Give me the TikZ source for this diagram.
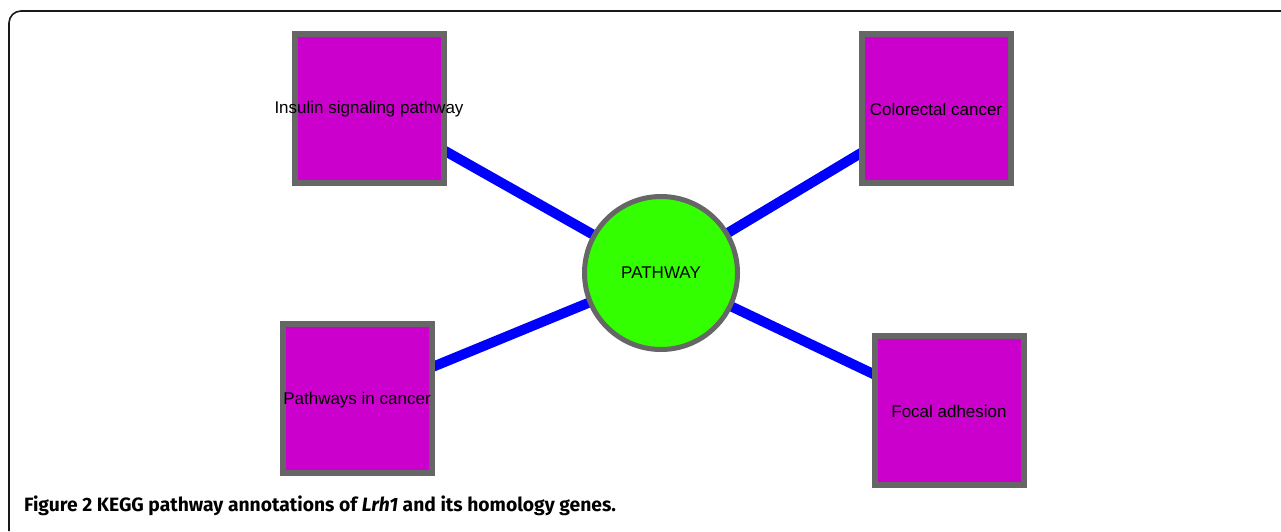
\documentclass[tikz,border=0pt]{standalone}
\usepackage{fontspec}
\setmainfont{Liberation Sans}
\newfontfamily\capfont{Fira Sans}
\definecolor{nodemag}{HTML}{CC00CC}
\definecolor{nodegreen}{HTML}{33FF00}
\definecolor{bordergray}{HTML}{666666}
\definecolor{edgeblue}{HTML}{0000FF}
\begin{document}
\begin{tikzpicture}[x=1pt,y=-1pt,
  lbl/.style={font=\fontsize{17}{19}\selectfont},
  sq/.style={draw=bordergray,fill=nodemag,line width=6pt,minimum size=149pt,inner sep=0pt},
  hub/.style={circle,draw=bordergray,fill=nodegreen,line width=5pt,minimum size=153pt,inner sep=0pt,lbl},
  link/.style={draw=edgeblue,line width=10pt},
  frame/.style={draw=black!90,line width=1.6pt,rounded corners=12pt}]
\useasboundingbox (0,0) rectangle (1281,531);
\draw[frame] (9,531) -- (9,11) -- (1281,11);
\coordinate (ci) at (661,273);
\coordinate (a) at (369,108);
\coordinate (b) at (936,108);
\coordinate (c) at (357,398);
\coordinate (d) at (949,410);
\draw[link] (a) -- (ci);
\draw[link] (b) -- (ci);
\draw[link] (c) -- (ci);
\draw[link] (d) -- (ci);
\node[sq] (ins) at (a) {};
\node[sq] (col) at (b) {};
\node[sq] (pic) at (c) {};
\node[sq] (foc) at (d) {};
\node[hub] (hubn) at (ci) {PATHWAY};
\node[lbl] (t1) at (369,109) {Insulin signaling pathway};
\node[lbl] (t2) at (936,109) {Colorectal cancer};
\node[lbl] (t3) at (357,400) {Pathways in cancer};
\node[lbl] (t4) at (949,411) {Focal adhesion};
\node[anchor=base west,inner sep=0pt,font=\capfont\bfseries\fontsize{19.3}{22}\selectfont] (cap) at (24,511) {Figure 2 KEGG pathway annotations of \textit{Lrh1} and its homology genes.};
\end{tikzpicture}
\end{document}
